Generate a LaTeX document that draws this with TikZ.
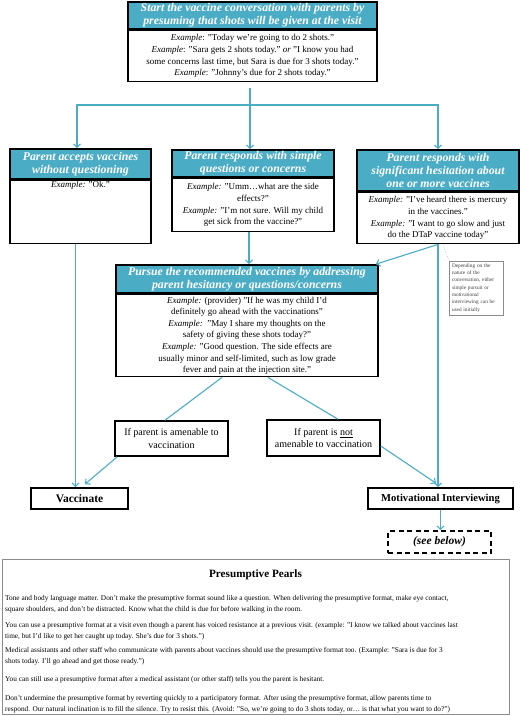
\documentclass[tikz,border=0pt]{standalone}
\usepackage{fontspec}
\setmainfont{Liberation Serif}
\usetikzlibrary{arrows.meta}
\definecolor{hblue}{RGB}{75,172,198}
\definecolor{ablue}{RGB}{75,172,198}
\definecolor{pgray}{RGB}{140,140,140}
\begin{document}
\begin{tikzpicture}[x=1pt,y=1pt,
  hdr/.style={draw=black, line width=1.6pt, fill=hblue, text=white,
    font=\fontsize{11.8}{13}\selectfont\bfseries\itshape, align=center, inner sep=0pt},
  bdy/.style={draw=black, line width=1.6pt, fill=white,
    font=\fontsize{9}{11.6}\selectfont, align=center, inner sep=0pt},
  sbox/.style={draw=black, line width=1.6pt, fill=white,
    font=\fontsize{10}{12.5}\selectfont, align=center, inner sep=0pt},
  endbox/.style={draw=black, line width=1.6pt, fill=white,
    font=\fontsize{10.6}{12}\selectfont\bfseries, align=center, inner sep=0pt},
  notebox/.style={draw=pgray, line width=0.5pt, fill=white, text=black!75,
    font=\fontsize{5.3}{7.3}\selectfont, align=left, inner xsep=3pt, inner ysep=2pt, text width=48pt},
  pearl/.style={font=\fontsize{7.3}{11}\selectfont, align=left, inner sep=0pt, anchor=west},
  arr/.style={draw=ablue, line width=1.1pt, -{Straight Barb[length=3.5pt,width=7pt]}},
  ln/.style={draw=ablue, line width=1.1pt}
]
\useasboundingbox (0,0) rectangle (520,-716);

% top box
\node[hdr, minimum width=249, minimum height=27] (th) at (252.5,-15.5)
  {Start the vaccine conversation with parents by\\presuming that shots will be given at the visit};
\node[bdy, minimum width=249, minimum height=51, anchor=north] (tb) at (th.south)
  {\textit{Example}: "Today we're going to do 2 shots."\\
   \textit{Example}: "Sara gets 2 shots today." \textit{or} "I know you had\\
   some concerns last time, but Sara is due for 3 shots today."\\
   \textit{Example}: "Johnny's due for 2 shots today."};

% left box
\node[hdr, minimum width=141, minimum height=30] (lh) at (80.5,-164)
  {Parent accepts vaccines\\without questioning};
\node[bdy, minimum width=141, minimum height=63, anchor=north] (lb) at (lh.south) {};
\node[font=\fontsize{9}{11.6}\selectfont, anchor=north, inner sep=1pt] (lt) at ([yshift=-0.5]lb.north)
  {\textit{Example:} "Ok."};

% middle box
\node[hdr, minimum width=162, minimum height=27] (mh) at (253,-163.5)
  {Parent responds with simple\\questions or concerns};
\node[bdy, minimum width=162, minimum height=53, anchor=north] (mb) at (mh.south)
  {\textit{Example:} "Umm…what are the side\\
   effects?"\\
   \textit{Example:} "I'm not sure. Will my child\\
   get sick from the vaccine?"};

% right box
\node[hdr, minimum width=162, minimum height=41] (rh) at (438,-170.5)
  {Parent responds with\\significant hesitation about\\one or more vaccines};
\node[bdy, minimum width=162, minimum height=51, anchor=north] (rb) at (rh.south)
  {\textit{Example:} "I've heard there is mercury\\
   in the vaccines."\\
   \textit{Example:} "I want to go slow and just\\
   do the DTaP vaccine today"};

% pursue box
\node[hdr, minimum width=262, minimum height=28] (ph) at (247,-279)
  {Pursue the recommended vaccines by addressing\\parent hesitancy or questions/concerns};
\node[bdy, minimum width=262, minimum height=82, anchor=north] (pb) at (ph.south)
  {\textit{Example:} (provider) "If he was my child I'd\\
   definitely go ahead with the vaccinations"\\
   \textit{Example:}\ \ "May I share my thoughts on the\\
   safety of giving these shots today?"\\
   \textit{Example:} "Good question. The side effects are\\
   usually minor and self-limited, such as low grade\\
   fever and pain at the injection site."};

% note
\node[notebox, minimum height=54] (note) at (476,-288)
  {Depending on the\\nature of the\\conversation, either\\simple pursuit or\\motivational\\interviewing can be\\used initially};

% decision boxes
\node[sbox, minimum width=113, minimum height=35] (am) at (171.5,-438.5)
  {If parent is amenable to\\vaccination};
\node[sbox, minimum width=113, minimum height=36] (na) at (323.5,-438)
  {If parent is \underline{not}\\amenable to vaccination};

% end boxes
\node[endbox, minimum width=97, minimum height=21, font=\fontsize{11.5}{12}\selectfont\bfseries] (vac) at (79.5,-498.5) {Vaccinate};
\node[endbox, minimum width=145, minimum height=21] (mi) at (440.5,-498.5) {Motivational Interviewing};
\node[endbox, dash pattern=on 5pt off 3.5pt, minimum width=103, minimum height=22,
  font=\fontsize{11.5}{12}\selectfont\bfseries\itshape] (sb) at (439.5,-542) {(see below)};

% connectors
\coordinate (t0) at (250,-88);
\coordinate (tj) at (250,-105);
\draw[arr] (t0) -- (t0 |- mh.north);
\draw[arr] (tj) -| ([xshift=-3.5]lh.north);
\draw[arr] (tj) -| (rh.north);
\draw[arr] ([xshift=-4]mb.south) -- ([xshift=-4]mb.south |- ph.north);
\draw[arr] (rb.south) -- ([xshift=-3]ph.north east);
\draw[pgray, line width=0.5pt, dotted] ([xshift=5]rb.south) -- (note.north west);
\draw[arr] (rb.south) -- (rb.south |- mi.north);
\draw[ln] ([xshift=-25]pb.south) -- ([xshift=-6.5]am.north);
\draw[ln] ([xshift=21]pb.south) -- ([xshift=14.5]na.north);
\draw[arr] ([xshift=3]am.south west) -- ([xshift=5.5,yshift=3]vac.north);
\draw[arr] ([yshift=-8]na.east) -- ([xshift=-4.5,yshift=4]mi.north);
\draw[arr] ([xshift=-5]lb.south) -- ([xshift=-5]lb.south |- vac.north);
\draw[arr] (mi.south) -- (mi.south |- sb.north);

% pearls
\node[draw=pgray, line width=0.8pt, minimum width=507, minimum height=155] (pearls) at (255.5,-636.5) {};
\node[font=\fontsize{11.2}{12}\selectfont\bfseries] (ptitle) at (255.5,-575) {Presumptive Pearls};
\node[pearl] (p1) at (5,-604.5)
  {Tone and body language matter. Don't make the presumptive format sound like a question. When delivering the presumptive format, make eye contact,\\
   square shoulders, and don't be distracted. Know what the child is due for before walking in the room.};
\node[pearl] (p2) at (5,-631.5)
  {You can use a presumptive format at a visit even though a parent has voiced resistance at a previous visit. (example: "I know we talked about vaccines last\\
   time, but I'd like to get her caught up today. She's due for 3 shots.")};
\node[pearl] (p3) at (5,-656.5)
  {Medical assistants and other staff who communicate with parents about vaccines should use the presumptive format too. (Example: "Sara is due for 3\\
   shots today. I'll go ahead and get those ready.")};
\node[pearl] (p4) at (5,-680)
  {You can still use a presumptive format after a medical assistant (or other staff) tells you the parent is hesitant.};
\node[pearl] (p5) at (5,-704.5)
  {Don't undermine the presumptive format by reverting quickly to a participatory format. After using the presumptive format, allow parents time to\\
   respond. Our natural inclination is to fill the silence. Try to resist this. (Avoid: "So, we're going to do 3 shots today, or… is that what you want to do?")};
\end{tikzpicture}
\end{document}
